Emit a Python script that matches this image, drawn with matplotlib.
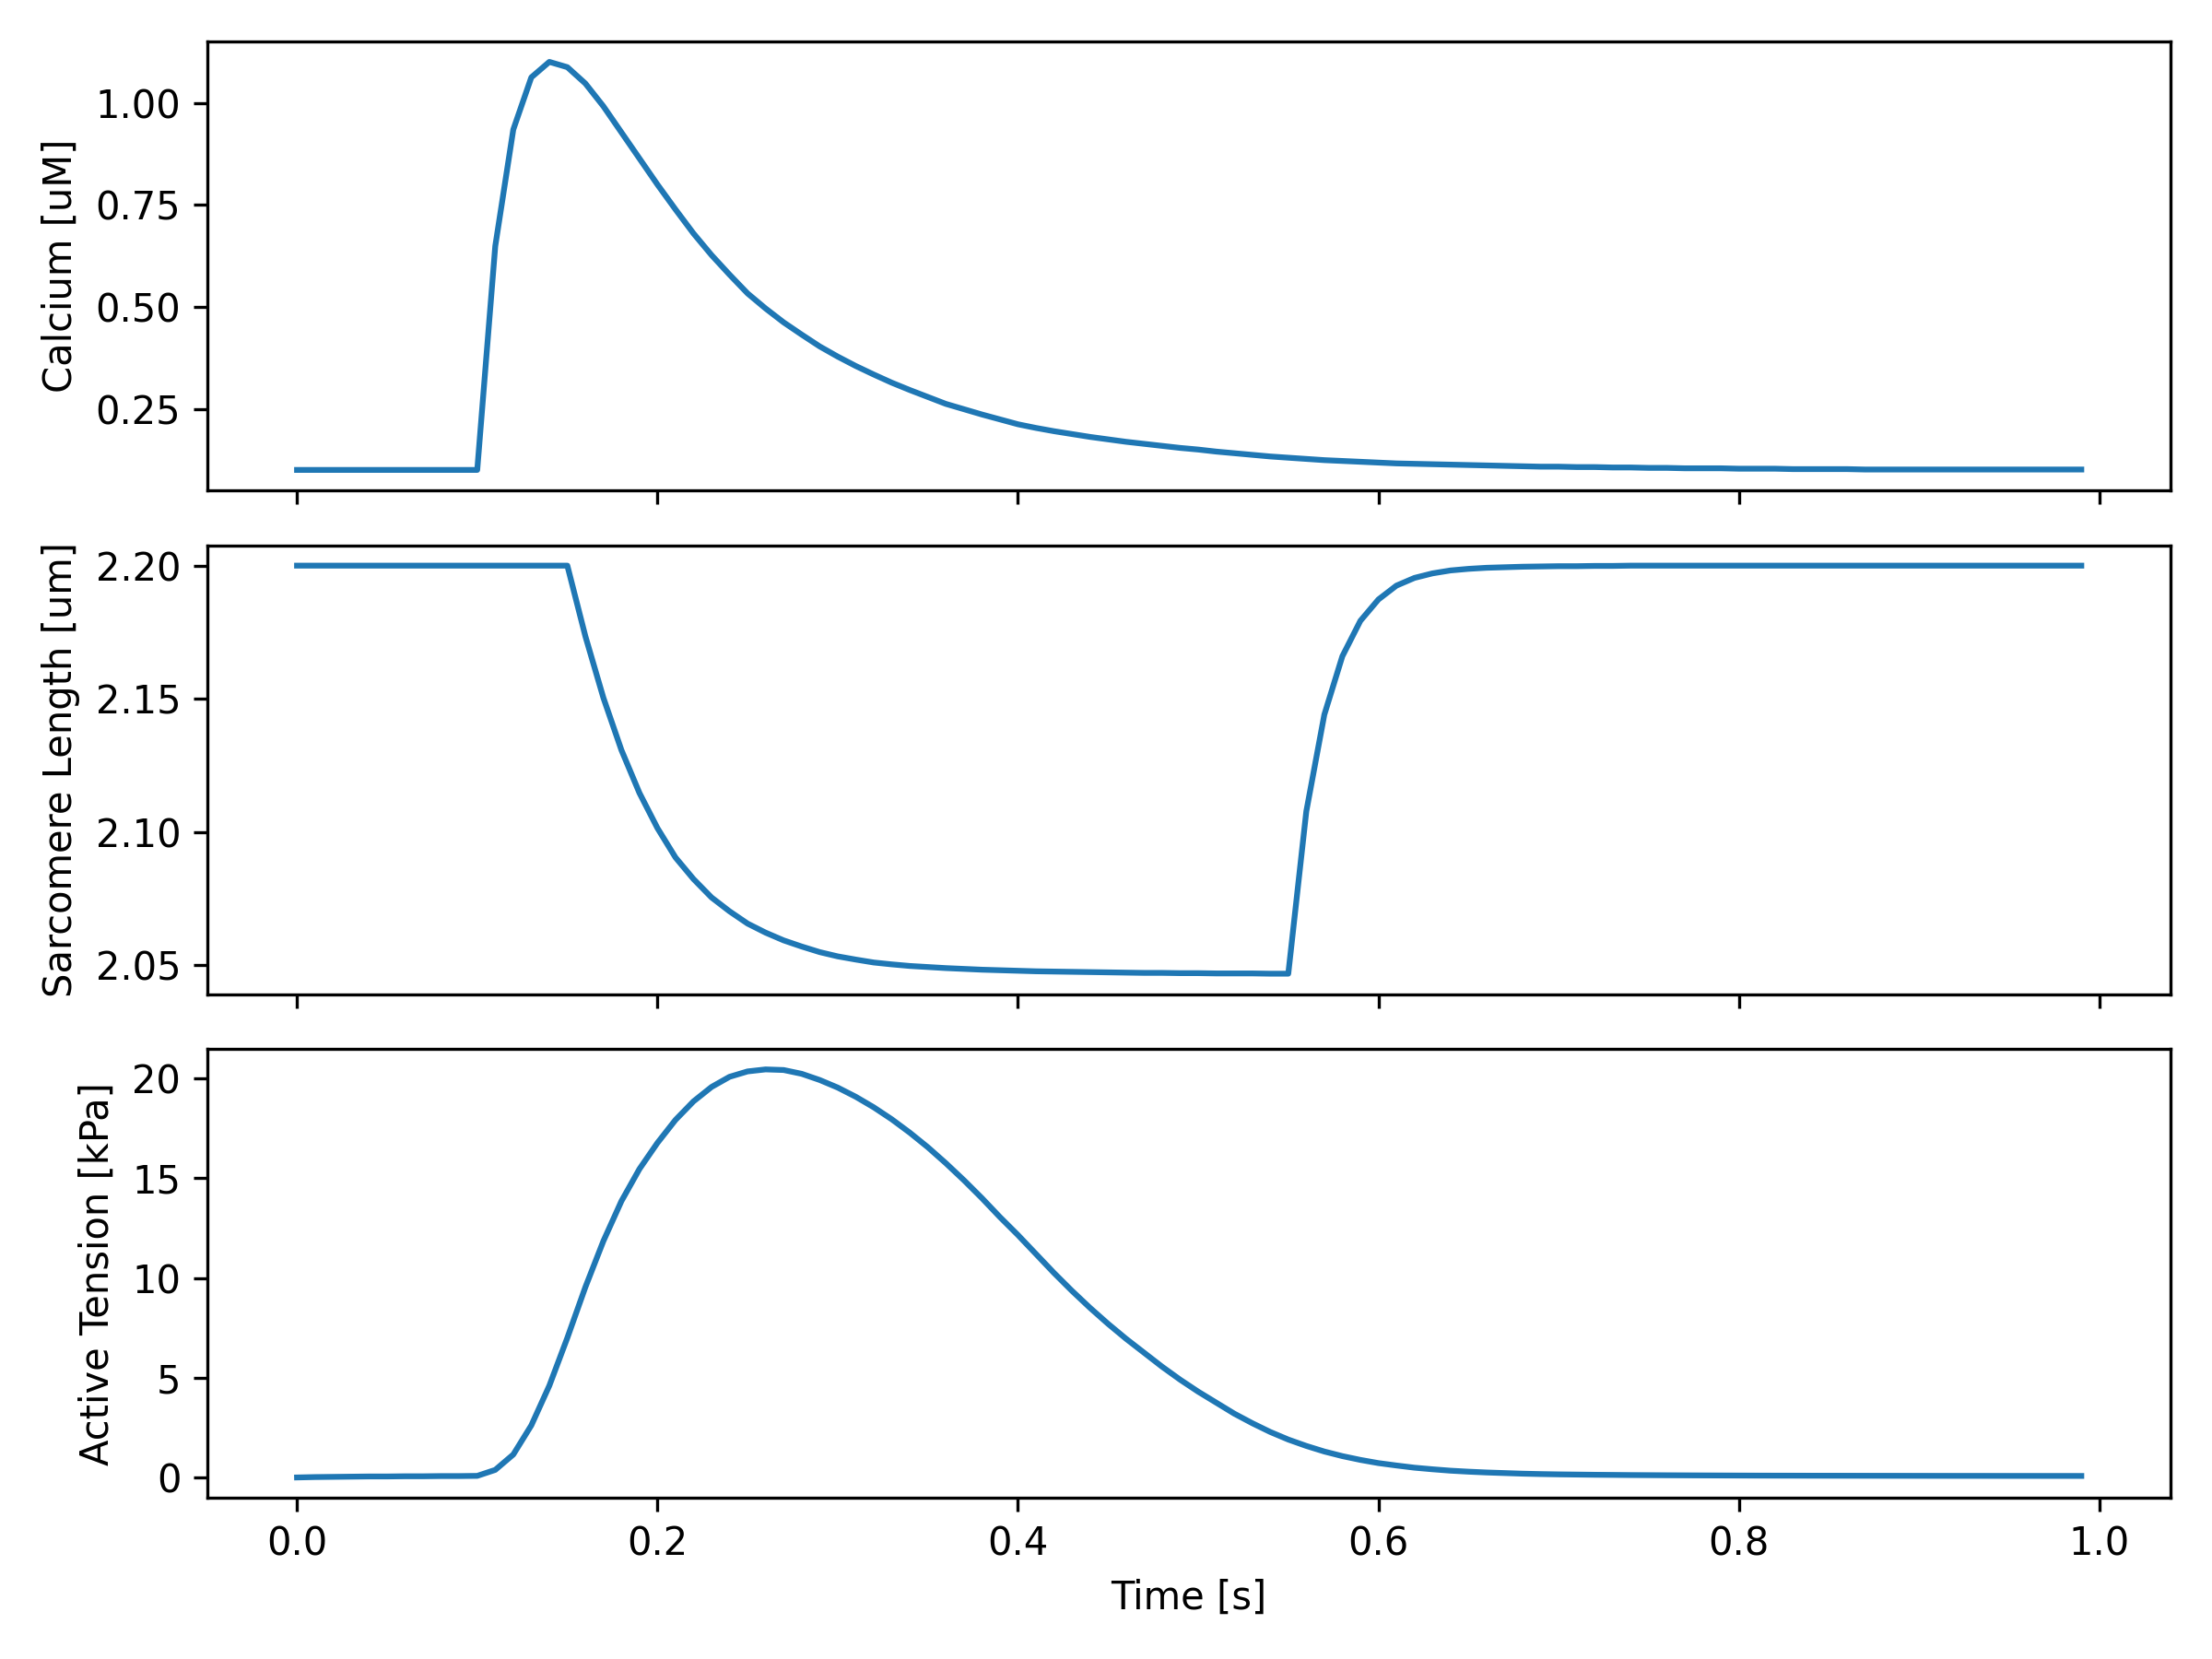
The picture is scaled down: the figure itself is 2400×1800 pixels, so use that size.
import numpy as np
import matplotlib
matplotlib.use("Agg")
import matplotlib.pyplot as plt

time = np.round(np.arange(100) * 0.01, 2)

calcium = [0.1] * 11 + [
    0.649, 0.935, 1.063, 1.101, 1.088, 1.048, 0.992, 0.928, 0.864, 0.800,
    0.739, 0.680, 0.627, 0.579, 0.533, 0.496, 0.462, 0.432, 0.403, 0.378,
    0.355, 0.334, 0.314, 0.296, 0.279, 0.262, 0.249, 0.236, 0.224, 0.212,
    0.203, 0.195, 0.188, 0.181, 0.175, 0.169, 0.164, 0.159, 0.154, 0.150,
    0.145, 0.141, 0.137, 0.133, 0.130, 0.127, 0.124, 0.122, 0.120, 0.118,
    0.116, 0.115, 0.114, 0.113, 0.112, 0.111, 0.110, 0.109, 0.108, 0.108,
    0.107, 0.107, 0.106, 0.106, 0.105, 0.105, 0.104, 0.104, 0.104, 0.103,
    0.103, 0.103, 0.102, 0.102, 0.102, 0.102,
] + [0.101] * 13

sarcomere_length = [2.2] * 16 + [
    2.1735, 2.1504, 2.1308, 2.1147, 2.1015, 2.0905, 2.0824, 2.0755, 2.0703, 2.0657,
    2.0623, 2.0594, 2.0571, 2.0550, 2.0534, 2.0522, 2.0511, 2.0504, 2.0498, 2.0494,
    2.0490, 2.0487, 2.0484, 2.0482, 2.0480, 2.0478, 2.0477, 2.0476, 2.0475, 2.0474,
    2.0473, 2.0472, 2.0472, 2.0471, 2.0471, 2.0470, 2.0470, 2.0470, 2.0469, 2.0469,
    2.1078, 2.1441, 2.1660, 2.1793, 2.1873, 2.1925, 2.1954, 2.1971, 2.1982, 2.1988,
    2.1992, 2.1994, 2.1996, 2.1997, 2.1998, 2.1998, 2.1999, 2.1999,
] + [2.2] * 26

active_tension = [
    0.00, 0.02, 0.03, 0.04, 0.05, 0.05, 0.06, 0.06, 0.07, 0.07, 0.08,
    0.38, 1.15, 2.61, 4.6, 7.0, 9.54, 11.85, 13.85, 15.46, 16.77,
    17.92, 18.85, 19.57, 20.08, 20.35, 20.45, 20.42, 20.23, 19.92, 19.54,
    19.08, 18.55, 17.95, 17.28, 16.55, 15.75, 14.9, 14.0, 13.05, 12.15,
    11.2, 10.25, 9.35, 8.5, 7.7, 6.95, 6.25, 5.55, 4.9, 4.3,
    3.75, 3.2, 2.72, 2.28, 1.9, 1.58, 1.3, 1.07, 0.88, 0.72,
    0.60, 0.49, 0.41, 0.34, 0.29, 0.25, 0.22, 0.19, 0.17, 0.155,
    0.145, 0.135, 0.128, 0.12, 0.115, 0.11, 0.106, 0.102, 0.099, 0.096,
    0.093, 0.091, 0.09, 0.088, 0.087, 0.086, 0.085, 0.084, 0.083, 0.082,
    0.081, 0.08, 0.08, 0.079, 0.078, 0.078, 0.077, 0.077, 0.076,
]

ylabels = ["Calcium [uM]", "Sarcomere Length [um]", "Active Tension [kPa]"]
series = [calcium, sarcomere_length, active_tension]

fig, axes = plt.subplots(3, 1, sharex=True, figsize=(8, 6), dpi=300)
for ax, y, lab in zip(axes, series, ylabels):
    ax.plot(time, y)
    ax.set_ylabel(lab)
axes[-1].set_xlabel("Time [s]")
fig.tight_layout()
fig.savefig("out.png", dpi=300)
